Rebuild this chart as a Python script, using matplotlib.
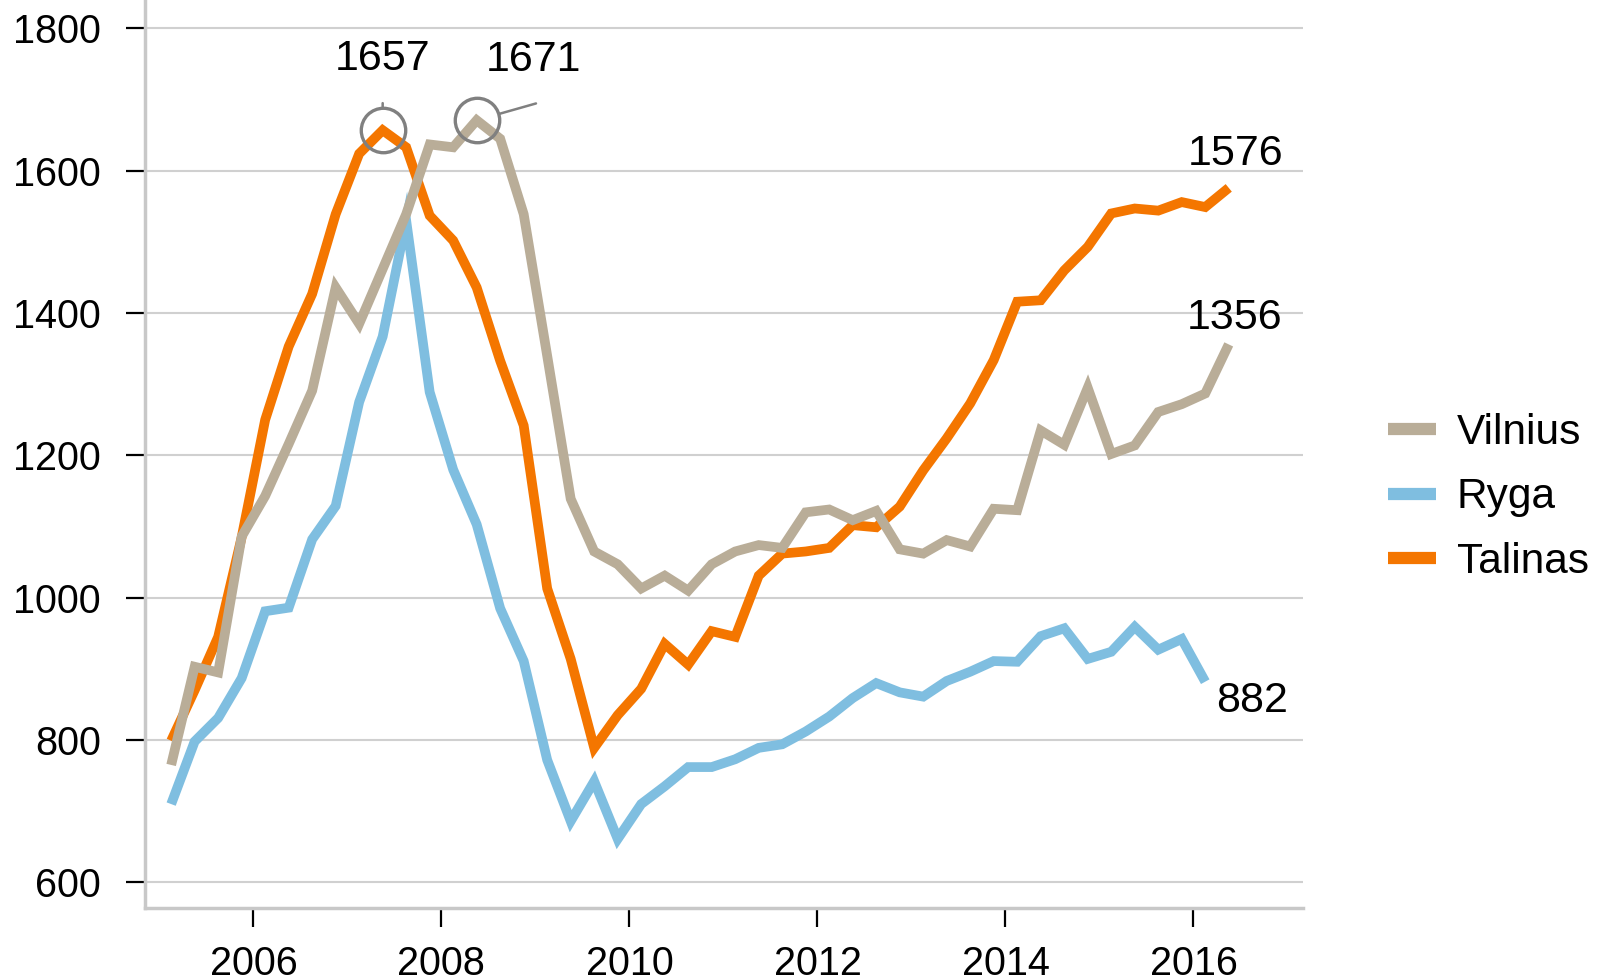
import numpy as np
import pandas as pd
import matplotlib
matplotlib.use('Agg')
import matplotlib.pyplot as plt
from matplotlib.lines import Line2D

plt.rcParams['font.family'] = ['Liberation Sans', 'DejaVu Sans']

# quarterly data, 2005Q1 - 2016Q2 (Ryga ends 2016Q1)
quarters = pd.period_range('2005Q1', '2016Q2', freq='Q')
x = np.array(quarters.year + (quarters.quarter - 1) / 4 + 0.125)

vilnius = [765, 903, 895, 1086, 1143, 1216, 1291, 1436, 1385, 1462,
           1539, 1637, 1633, 1671, 1645, 1539, 1340, 1139, 1065, 1047,
           1013, 1031, 1010, 1047, 1065, 1074, 1070, 1120, 1124, 1109,
           1122, 1068, 1062, 1081, 1072, 1125, 1123, 1235, 1215, 1295,
           1202, 1214, 1261, 1272, 1287, 1356]
ryga = [710, 798, 831, 887, 981, 986, 1082, 1129, 1275, 1367,
        1530, 1289, 1180, 1103, 985, 911, 772, 686, 742, 661,
        710, 735, 762, 762, 773, 789, 794, 812, 833, 859,
        880, 867, 861, 883, 896, 911, 910, 946, 957, 914,
        924, 959, 927, 942, 882]
talinas = [799, 870, 945, 1085, 1250, 1353, 1427, 1539, 1624, 1657,
           1633, 1537, 1502, 1436, 1333, 1242, 1013, 914, 789, 835,
           872, 935, 906, 953, 945, 1031, 1062, 1065, 1070, 1102,
           1099, 1128, 1179, 1224, 1273, 1334, 1416, 1418, 1460, 1493,
           1540, 1547, 1544, 1556, 1549, 1576]

names = ['Vilnius', 'Ryga', 'Talinas']
colors = {'Vilnius': '#b9ad98', 'Ryga': '#7fbee0', 'Talinas': '#f47600'}
yticks = [600, 800, 1000, 1200, 1400, 1600, 1800]
xticks = [2006, 2008, 2010, 2012, 2014, 2016]

fig = plt.figure(figsize=(16.09, 9.8), dpi=100)
ax = fig.add_axes([0.0899, 0.0735, 0.7201, 0.9265])

lw = 7
ax.plot(x, talinas, color=colors['Talinas'], lw=lw, solid_joinstyle='miter', solid_capstyle='butt')
ax.plot(x[:len(ryga)], ryga, color=colors['Ryga'], lw=lw, solid_joinstyle='miter', solid_capstyle='butt')
ax.plot(x, vilnius, color=colors['Vilnius'], lw=lw, solid_joinstyle='miter', solid_capstyle='butt')

ax.set_xlim(2004.843, 2017.168)
ax.set_ylim(564, 1840)
ax.set_xticks(xticks)
ax.set_yticks(yticks)
ax.tick_params(axis='both', direction='out', length=14, width=1.6, color='black',
               labelsize=28.5)
ax.tick_params(axis='y', pad=17.5)
ax.tick_params(axis='x', pad=12.5)
ax.yaxis.grid(True, color='#d0d0d0', lw=1.5)
ax.set_axisbelow(True)
for s in ['top', 'right']:
    ax.spines[s].set_visible(False)
for s in ['left', 'bottom']:
    ax.spines[s].set_color('#c8c8c8')
    ax.spines[s].set_linewidth(2.5)

# peak markers
grey = '#808080'
i_t = int(np.argmax(talinas))
i_v = int(np.argmax(vilnius))
for i, vals in [(i_t, talinas), (i_v, vilnius)]:
    ax.plot(x[i], vals[i], 'o', ms=32, mfc='none', mec=grey, mew=2.4, zorder=5)

ax.annotate('', xy=(x[i_t], talinas[i_t]), xytext=(0, 19.5), textcoords='offset points',
            arrowprops=dict(arrowstyle='-', color=grey, lw=1.8, shrinkA=0, shrinkB=16.5))
ax.annotate('', xy=(x[i_v], vilnius[i_v]), xytext=(42.7, 12.1), textcoords='offset points',
            arrowprops=dict(arrowstyle='-', color=grey, lw=1.8, shrinkA=0, shrinkB=16.8))

fs = 31
ax.annotate(str(talinas[i_t]), xy=(x[i_t], talinas[i_t]), xytext=(0, 51),
            textcoords='offset points', ha='center', va='center', fontsize=fs)
ax.annotate(str(vilnius[i_v]), xy=(x[i_v], vilnius[i_v]), xytext=(40.7, 43.6),
            textcoords='offset points', ha='center', va='center', fontsize=fs)

# end labels
ax.annotate(str(talinas[-1]), xy=(x[-1], talinas[-1]), xytext=(4.8, 24.5),
            textcoords='offset points', ha='center', va='center', fontsize=fs)
ax.annotate(str(vilnius[-1]), xy=(x[-1], vilnius[-1]), xytext=(4.1, 19),
            textcoords='offset points', ha='center', va='center', fontsize=fs)
ax.annotate(str(ryga[-1]), xy=(x[len(ryga) - 1], ryga[-1]), xytext=(33.6, -13.8),
            textcoords='offset points', ha='center', va='center', fontsize=fs)

handles = [Line2D([], [], color=colors[n], lw=8.8, solid_capstyle='butt') for n in names]
fig.legend(handles, names, loc='center left', bbox_to_anchor=(0.8626, 0.4925),
           frameon=False, fontsize=30.5, handlelength=1.13, handletextpad=0.5,
           labelspacing=0.58, borderpad=0, borderaxespad=0)

fig.savefig('out.png', dpi=100)
